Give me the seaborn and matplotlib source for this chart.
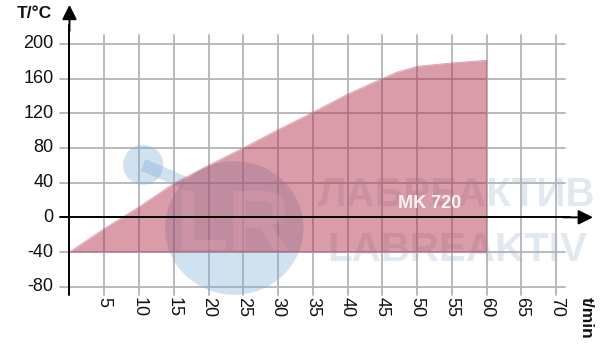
import matplotlib
matplotlib.use("Agg")
import matplotlib.pyplot as plt
from matplotlib.patches import Ellipse
import seaborn as sns
import pandas as pd

# ---- data ----
time_min = [0, 5, 10, 15, 20, 25, 30, 35, 40, 45, 47, 50, 55, 60]
temp_c = [-40, -13, 12, 39, 60, 80, 101, 121, 142, 160, 167, 174, 178, 181]
base_temp = -40
x_ticks = [5, 10, 15, 20, 25, 30, 35, 40, 45, 50, 55, 60, 65, 70]
y_ticks = [-80, -40, 0, 40, 80, 120, 160, 200]
series_label = "MK 720"
x_label = "t/min"
y_label = "T/°C"
watermark_ru = "ЛАБРЕАКТИВ"
watermark_en = "LABREAKTIV"

sns.set_theme(style="white")
plt.rcParams['font.family'] = ['Liberation Sans', 'DejaVu Sans']

fig = plt.figure(figsize=(6.0, 3.57), dpi=100)
ax = fig.add_axes([0.1158, 0.175, 0.8725, 0.8115])
ax.set_xlim(0, 75.3)
ax.set_ylim(-89, 245)
for s in ax.spines.values():
    s.set_visible(False)
ax.set_xticks([])
ax.set_yticks([])

grid_c = "#b4b4b8"
# grid
for xv in x_ticks:
    ax.plot([xv, xv], [-90, 210], color=grid_c, lw=1.3, zorder=1, clip_on=False)
for yv in y_ticks:
    if yv != 0:
        ax.plot([-1.4, 71.3], [yv, yv], color=grid_c, lw=1.3, zorder=1, clip_on=False)

# watermark (logo + text)
logo_c = "#7aaad6"
ax.add_patch(Ellipse((23.7, -12.3), 19.9, 154, color=logo_c, alpha=0.35, lw=0, zorder=1.5))
ax.add_patch(Ellipse((10.6, 60.5), 5.8, 46, color=logo_c, alpha=0.35, lw=0, zorder=1.5))
ax.plot([10.6, 16.5], [60.5, 40], color=logo_c, alpha=0.35, lw=9, zorder=1.5,
        solid_capstyle="butt")
ax.text(23.5, -12, "LR", color="white", alpha=0.45, fontsize=62, fontweight="bold",
        ha="center", va="center", zorder=1.6)
ax.text(55.7, 26, watermark_ru, color="#9fb6cc", alpha=0.3, fontsize=29, fontweight="bold",
        ha="center", va="center", zorder=1.6)
ax.text(55.7, -38, watermark_en, color="#9fb6cc", alpha=0.3, fontsize=29, fontweight="bold",
        ha="center", va="center", zorder=1.6)

# filled area
df = pd.DataFrame({"t": time_min, "T": temp_c})
sns.lineplot(data=df, x="t", y="T", ax=ax, color="#b23a52", lw=0.6, alpha=0.5, zorder=2)
ax.fill_between(df["t"], base_temp, df["T"], color="#b0304a", alpha=0.48, lw=0, zorder=2)

# axes with arrows
ax.plot([-1.4, 72], [0, 0], color="black", lw=1.4, zorder=3, clip_on=False)
ax.annotate("", xy=(75.3, 0), xytext=(71, 0),
            arrowprops=dict(arrowstyle="-|>", color="black", lw=1.4, mutation_scale=22,
                            shrinkA=0, shrinkB=0), zorder=3, annotation_clip=False)
ax.plot([0, 0], [-89, 222], color="black", lw=1.4, zorder=3, clip_on=False)
ax.annotate("", xy=(0, 245), xytext=(0, 215),
            arrowprops=dict(arrowstyle="-|>", color="black", lw=1.4, mutation_scale=22,
                            shrinkA=0, shrinkB=0), zorder=3, annotation_clip=False)

# tick labels
for yv in y_ticks:
    ax.text(-2.3, yv, str(yv), ha="right", va="center", fontsize=13, color="#111111")
for xv in x_ticks:
    ax.text(xv, -92, str(xv), ha="center", va="top", rotation=-90, fontsize=13, color="#111111")

ax.text(-5.0, 235.5, y_label, ha="center", va="center", fontsize=12.5, fontweight="bold", color="#111111")
ax.text(74.4, -92, x_label, ha="center", va="top", rotation=-90, fontsize=12.5,
        fontweight="bold", color="#111111")

ax.text(51.8, 16.5, series_label, ha="center", va="center", fontsize=13, fontweight="bold",
        color="white", alpha=0.9, zorder=4)

fig.savefig("out.png", dpi=100)
